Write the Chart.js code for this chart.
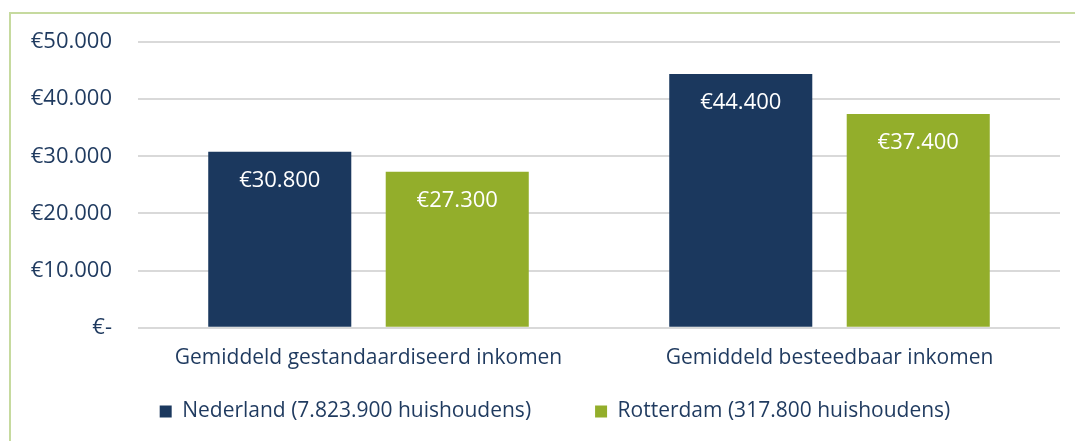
<!DOCTYPE html>
<html>
<head>
<meta charset="utf-8">
<script src="https://cdn.jsdelivr.net/npm/chart.js@4.4.0/dist/chart.umd.min.js"></script>
<style>
  html, body { margin: 0; padding: 0; background: #fff; overflow: hidden; }
  #frame {
    position: absolute; left: 9px; top: 12px; width: 1200px; height: 600px;
    border-left: 2px solid #c6da9f; border-top: 2px solid #c6da9f;
  }
  #wrap { position: absolute; left: 0; top: 0; width: 1106px; height: 441px; }
</style>
</head>
<body>
<div id="frame"></div>
<div id="wrap"><canvas id="chart-bars"></canvas></div>
<script>
// data
const categories = ['Gemiddeld gestandaardiseerd inkomen', 'Gemiddeld besteedbaar inkomen'];
const nederland = [30800, 44400];
const rotterdam = [27300, 37400];
const seriesNames = ['Nederland (7.823.900 huishoudens)', 'Rotterdam (317.800 huishoudens)'];

const textColor = '#1f3a5f';
const fontFamily = '"Open Sans", "DejaVu Sans", sans-serif';

function euro(v) {
    if (v === 0) return '€-';
    return '€' + v.toString().replace(/\B(?=(\d{3})+(?!\d))/g, '.');
}

// white value labels inside the bars
const barLabels = {
    id: 'barLabels',
    afterDatasetsDraw(chart) {
        const ctx = chart.ctx;
        ctx.save();
        ctx.fillStyle = '#ffffff';
        ctx.font = '22px ' + fontFamily;
        ctx.textAlign = 'center';
        ctx.textBaseline = 'middle';
        chart.data.datasets.forEach((ds, i) => {
            chart.getDatasetMeta(i).data.forEach((bar, j) => {
                ctx.fillText(euro(ds.data[j]), bar.x, bar.y + 29);
            });
        });
        ctx.restore();
    }
};

// move the legend row to where it sits in the original
const legendPlace = {
    id: 'legendPlace',
    afterLayout(chart) {
        const lg = chart.legend;
        lg.left += 10;
        lg.right += 10;
        lg.top = 337;
        lg.bottom = 441;
        lg.height = lg.bottom - lg.top;
    }
};

const data = {
    labels: categories,
    datasets: [{
        label: seriesNames[0],
        data: nederland,
        backgroundColor: '#1b385e',
        barPercentage: 0.806,
        categoryPercentage: 0.77
    },
    {
        label: seriesNames[1],
        data: rotterdam,
        backgroundColor: '#93ae2b',
        barPercentage: 0.806,
        categoryPercentage: 0.77
    }]
};

const config = {
    type: 'bar',
    data,
    options: {
        responsive: false,
        animation: false,
        layout: {
            padding: { top: 42, right: 46, left: 30, bottom: 30 }
        },
        scales: {
            y: {
                min: 0,
                max: 50000,
                afterFit: (s) => { s.width = 108; },
                ticks: {
                    stepSize: 10000,
                    padding: 26,
                    color: textColor,
                    font: { family: fontFamily, size: 22 },
                    callback: (v) => euro(v)
                },
                grid: { color: '#d9d9d9', lineWidth: 2, drawTicks: false },
                border: { display: false }
            },
            x: {
                ticks: {
                    color: textColor,
                    padding: 10,
                    font: { family: fontFamily, size: 21 }
                },
                grid: { display: false },
                border: { display: false }
            }
        },
        plugins: {
            legend: {
                position: 'bottom',
                maxHeight: 30,
                labels: {
                    boxWidth: 12,
                    boxHeight: 12,
                    padding: 64,
                    color: textColor,
                    font: { family: fontFamily, size: 21 }
                }
            },
            tooltip: { enabled: false }
        }
    },
    plugins: [barLabels, legendPlace]
};

const canvas = document.getElementById('chart-bars');
canvas.width = 1106;
canvas.height = 441;
const myChart = new Chart(canvas, config);
</script>
</body>
</html>
